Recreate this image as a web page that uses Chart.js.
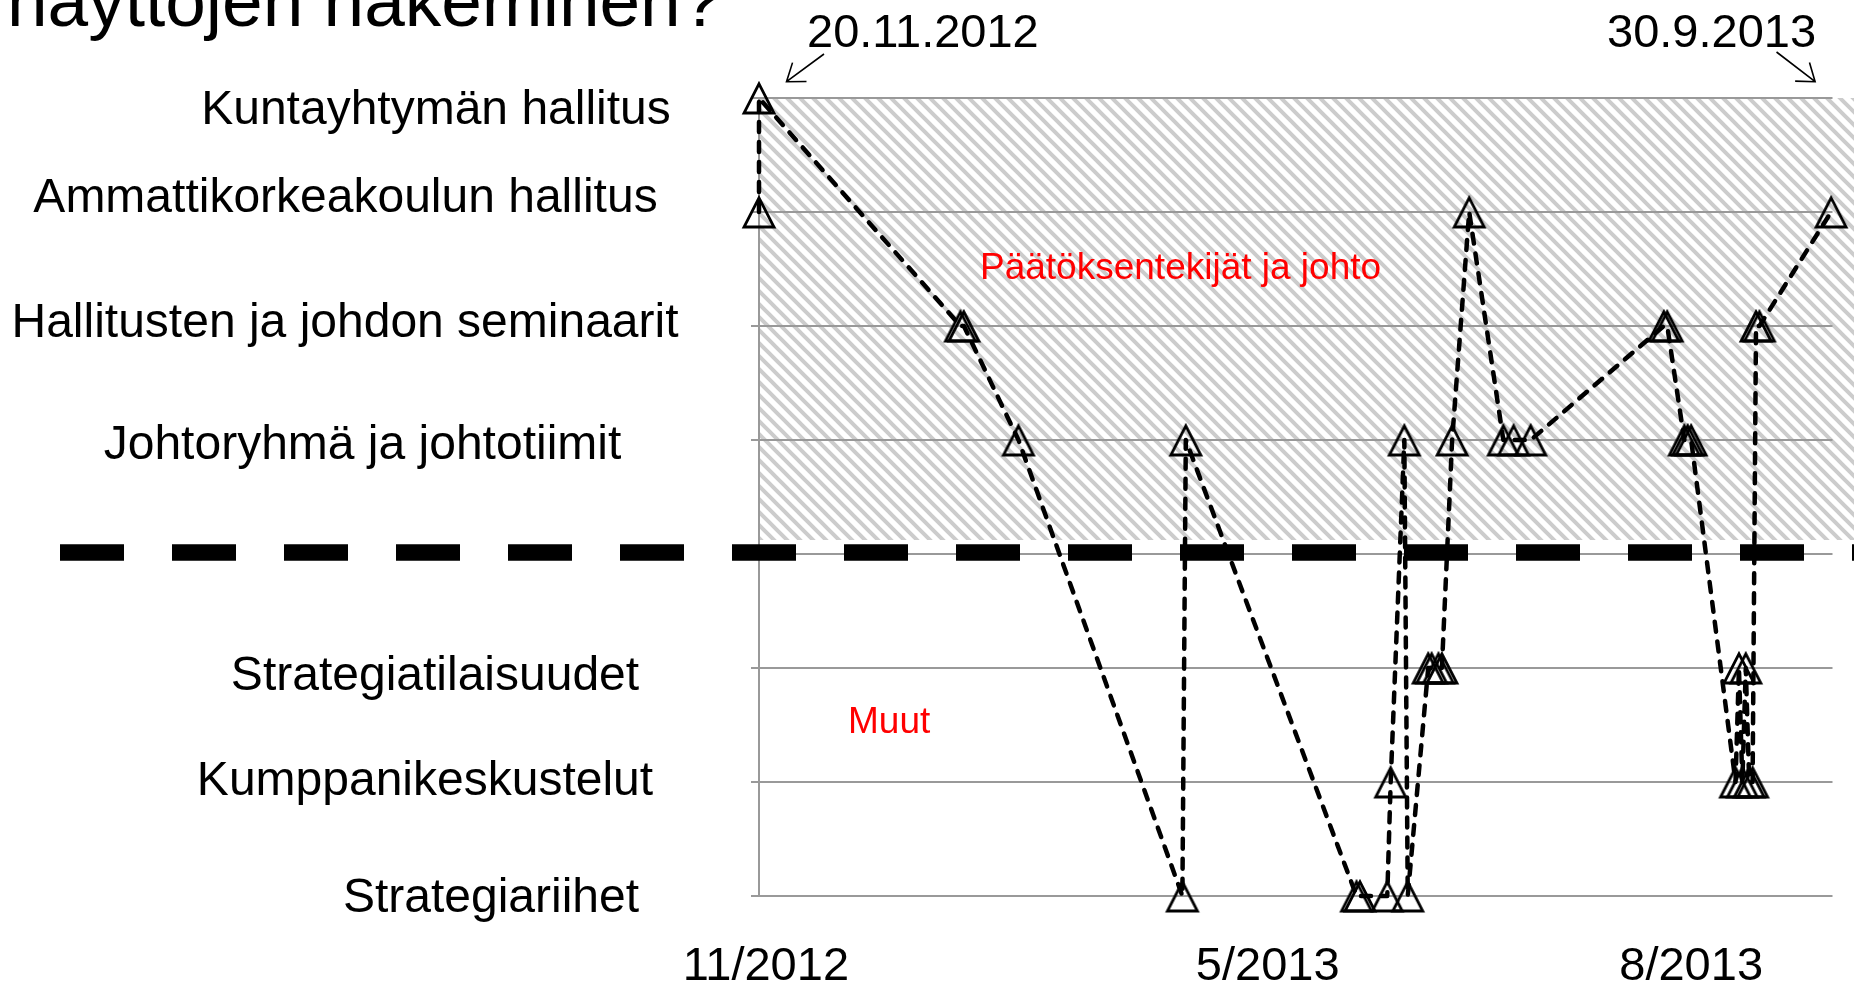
<!DOCTYPE html>
<html>
<head>
<meta charset="utf-8">
<script src="https://cdn.jsdelivr.net/npm/chart.js@4/dist/chart.umd.min.js"></script>
<style>
html,body{margin:0;padding:0;background:#fff;overflow:hidden}
#c{display:block;width:1854px;height:989px}
</style>
</head>
<body>
<canvas id="c" width="1854" height="989"></canvas>
<script>
// ---------------- data ----------------
const categories = [
  'Strategiariihet',
  'Kumppanikeskustelut',
  'Strategiatilaisuudet',
  '',
  'Johtoryhmä ja johtotiimit',
  'Hallitusten ja johdon seminaarit',
  'Ammattikorkeakoulun hallitus',
  'Kuntayhtymän hallitus'
];
const startDate = '2012-11-20';
const endDate = '2013-09-30';
const eventDates = [
  '2012-11-20','2012-11-20','2013-01-18','2013-01-19','2013-02-04','2013-03-24','2013-03-25',
  '2013-05-14','2013-05-15','2013-05-23','2013-05-24','2013-05-28','2013-05-29',
  '2013-06-04','2013-06-05','2013-06-07','2013-06-08','2013-06-11','2013-06-16',
  '2013-06-26','2013-06-29','2013-07-04','2013-08-12','2013-08-13','2013-08-18',
  '2013-08-19','2013-08-20','2013-09-02','2013-09-03','2013-09-04','2013-09-05',
  '2013-09-06','2013-09-07','2013-09-08','2013-09-09','2013-09-30'
];
const eventCategories = [
  'Ammattikorkeakoulun hallitus','Kuntayhtymän hallitus',
  'Hallitusten ja johdon seminaarit','Hallitusten ja johdon seminaarit',
  'Johtoryhmä ja johtotiimit','Strategiariihet','Johtoryhmä ja johtotiimit',
  'Strategiariihet','Strategiariihet','Strategiariihet','Kumppanikeskustelut',
  'Johtoryhmä ja johtotiimit','Strategiariihet',
  'Strategiatilaisuudet','Strategiatilaisuudet','Strategiatilaisuudet','Strategiatilaisuudet',
  'Johtoryhmä ja johtotiimit','Ammattikorkeakoulun hallitus',
  'Johtoryhmä ja johtotiimit','Johtoryhmä ja johtotiimit','Johtoryhmä ja johtotiimit',
  'Hallitusten ja johdon seminaarit','Hallitusten ja johdon seminaarit',
  'Johtoryhmä ja johtotiimit','Johtoryhmä ja johtotiimit','Johtoryhmä ja johtotiimit',
  'Kumppanikeskustelut','Strategiatilaisuudet','Kumppanikeskustelut','Strategiatilaisuudet',
  'Kumppanikeskustelut','Kumppanikeskustelut',
  'Hallitusten ja johdon seminaarit','Hallitusten ja johdon seminaarit',
  'Ammattikorkeakoulun hallitus'
];
const xTickLabels = ['11/2012', '5/2013', '8/2013'];
const xTickDates = ['2012-11-22', '2013-04-18', '2013-08-20'];
const titleText = 'näyttöjen hakeminen?';
const startLabel = '20.11.2012';
const endLabel = '30.9.2013';
const upperGroupLabel = 'Päätöksentekijät ja johto';
const lowerGroupLabel = 'Muut';

// ---------------- layout / style ----------------
const yLabelCenterX = [491, 425, 435, 0, 362.5, 345, 345.5, 436];
const yLabelBaselineDy = [16, 13, 22, 0, 19, 11, 0, 26];
const FONT = '"Liberation Sans", Arial, sans-serif';

function dayOf(d) {
  const [y, m, dd] = d.split('-').map(Number);
  const [y0, m0, d0] = startDate.split('-').map(Number);
  return (Date.UTC(y, m - 1, dd) - Date.UTC(y0, m0 - 1, d0)) / 86400000;
}
const points = eventDates.map((d, i) => ({ x: dayOf(d), y: categories.indexOf(eventCategories[i]) }));
const xTickDays = xTickDates.map(dayOf);
const lastDay = dayOf(endDate);

function makeTriangle() {
  const c = document.createElement('canvas');
  c.width = 44; c.height = 44;
  const g = c.getContext('2d');
  g.strokeStyle = '#000';
  g.lineWidth = 2.8;
  g.lineJoin = 'miter';
  g.beginPath();
  g.moveTo(22, 7.8);
  g.lineTo(37, 37);
  g.lineTo(7, 37);
  g.closePath();
  g.stroke();
  return c;
}
function makeHatch(ctx) {
  const p = 13;
  const c = document.createElement('canvas');
  c.width = p; c.height = p;
  const g = c.getContext('2d');
  g.fillStyle = '#fff';
  g.fillRect(0, 0, p, p);
  g.strokeStyle = '#cccccc';
  g.lineWidth = 4;
  g.beginPath();
  for (let k = -1; k <= 1; k++) {
    g.moveTo(-3, -3 + k * p);
    g.lineTo(p + 3, p + 3 + k * p);
  }
  g.stroke();
  return ctx.createPattern(c, 'repeat');
}

function arrow(ctx, tx, ty, fx, fy) {
  const ang = Math.atan2(fy - ty, fx - tx);
  const L = 20, a = 36 * Math.PI / 180;
  ctx.beginPath();
  ctx.moveTo(fx, fy); ctx.lineTo(tx, ty);
  ctx.moveTo(tx + L * Math.cos(ang + a), ty + L * Math.sin(ang + a));
  ctx.lineTo(tx, ty);
  ctx.lineTo(tx + L * Math.cos(ang - a), ty + L * Math.sin(ang - a));
  ctx.stroke();
}

const decor = {
  id: 'decor',
  beforeDraw(chart) {
    const { ctx, chartArea, scales } = chart;
    ctx.save();
    ctx.fillStyle = '#fff';
    ctx.fillRect(0, 0, chart.width, chart.height);
    const yTop = scales.y.getPixelForValue(7);
    const yBot = scales.y.getPixelForValue(3) - 14;
    ctx.fillStyle = makeHatch(ctx);
    ctx.fillRect(chartArea.left, yTop, chart.width - chartArea.left, yBot - yTop);
    ctx.restore();
  },
  beforeDatasetsDraw(chart) {
    const { ctx, scales } = chart;
    const y = scales.y.getPixelForValue(3) - 1.5;
    ctx.save();
    ctx.strokeStyle = '#000';
    ctx.lineWidth = 16.3;
    ctx.lineCap = 'butt';
    ctx.setLineDash([64, 48]);
    ctx.beginPath();
    ctx.moveTo(60, y);
    ctx.lineTo(chart.width, y);
    ctx.stroke();
    ctx.restore();
  },
  afterDraw(chart) {
    const { ctx, scales } = chart;
    const xs = scales.x, ys = scales.y;
    ctx.save();
    ctx.fillStyle = '#000';
    ctx.font = '48px ' + FONT;
    ctx.textAlign = 'center';
    ctx.textBaseline = 'alphabetic';
    categories.forEach((c, i) => {
      if (!c) return;
      ctx.fillText(c, yLabelCenterX[i], ys.getPixelForValue(i) + yLabelBaselineDy[i]);
    });
    ctx.textAlign = 'left';
    ctx.font = '73px ' + FONT;
    ctx.fillText(titleText, 7, 26);
    ctx.font = '47px ' + FONT;
    ctx.fillText(startLabel, 807, 47);
    ctx.fillText(endLabel, 1607, 47);
    ctx.strokeStyle = '#000';
    ctx.lineWidth = 1.6;
    const topY = ys.getPixelForValue(7);
    const x0 = xs.getPixelForValue(0), x1 = xs.getPixelForValue(lastDay);
    arrow(ctx, x0 + 27.5, topY - 16.3, x0 + 65, topY - 44);
    arrow(ctx, x1 - 16, topY - 16.3, x1 - 54.6, topY - 46);
    ctx.fillStyle = '#ff0000';
    ctx.font = '37px ' + FONT;
    ctx.fillText(upperGroupLabel, 980, 279);
    ctx.fillText(lowerGroupLabel, 848, 733);
    ctx.restore();
  }
};

new Chart(document.getElementById('c'), {
  type: 'line',
  data: {
    datasets: [{
      data: points,
      borderColor: '#000',
      borderWidth: 4.5,
      borderDash: [10, 10],
      borderCapStyle: 'round',
      borderJoinStyle: 'round',
      pointStyle: makeTriangle(),
      pointRadius: 17,
      pointHoverRadius: 17,
      tension: 0,
      fill: false,
      clip: false
    }]
  },
  options: {
    responsive: false,
    animation: false,
    events: [],
    layout: { padding: { left: 0, right: 14, top: 98, bottom: 0 } },
    scales: {
      x: {
        type: 'linear',
        min: 0,
        max: 314.4,
        grid: { display: false, drawTicks: false },
        border: { display: false },
        afterBuildTicks: (s) => { s.ticks = xTickDays.map(v => ({ value: v })); },
        afterFit: (s) => { s.height = 93; },
        ticks: {
          autoSkip: false,
          maxRotation: 0,
          padding: 43,
          color: '#000',
          font: { family: FONT, size: 47 },
          callback: (v, i) => xTickLabels[i]
        }
      },
      y: {
        min: 0,
        max: 7,
        afterFit: (s) => { s.width = 759; },
        ticks: { stepSize: 1, display: false },
        grid: { color: '#999999', lineWidth: 2, drawTicks: true, tickLength: 8 },
        border: { display: true, color: '#999999', width: 2 }
      }
    },
    plugins: { legend: { display: false }, tooltip: { enabled: false } }
  },
  plugins: [decor]
});
</script>
</body>
</html>
